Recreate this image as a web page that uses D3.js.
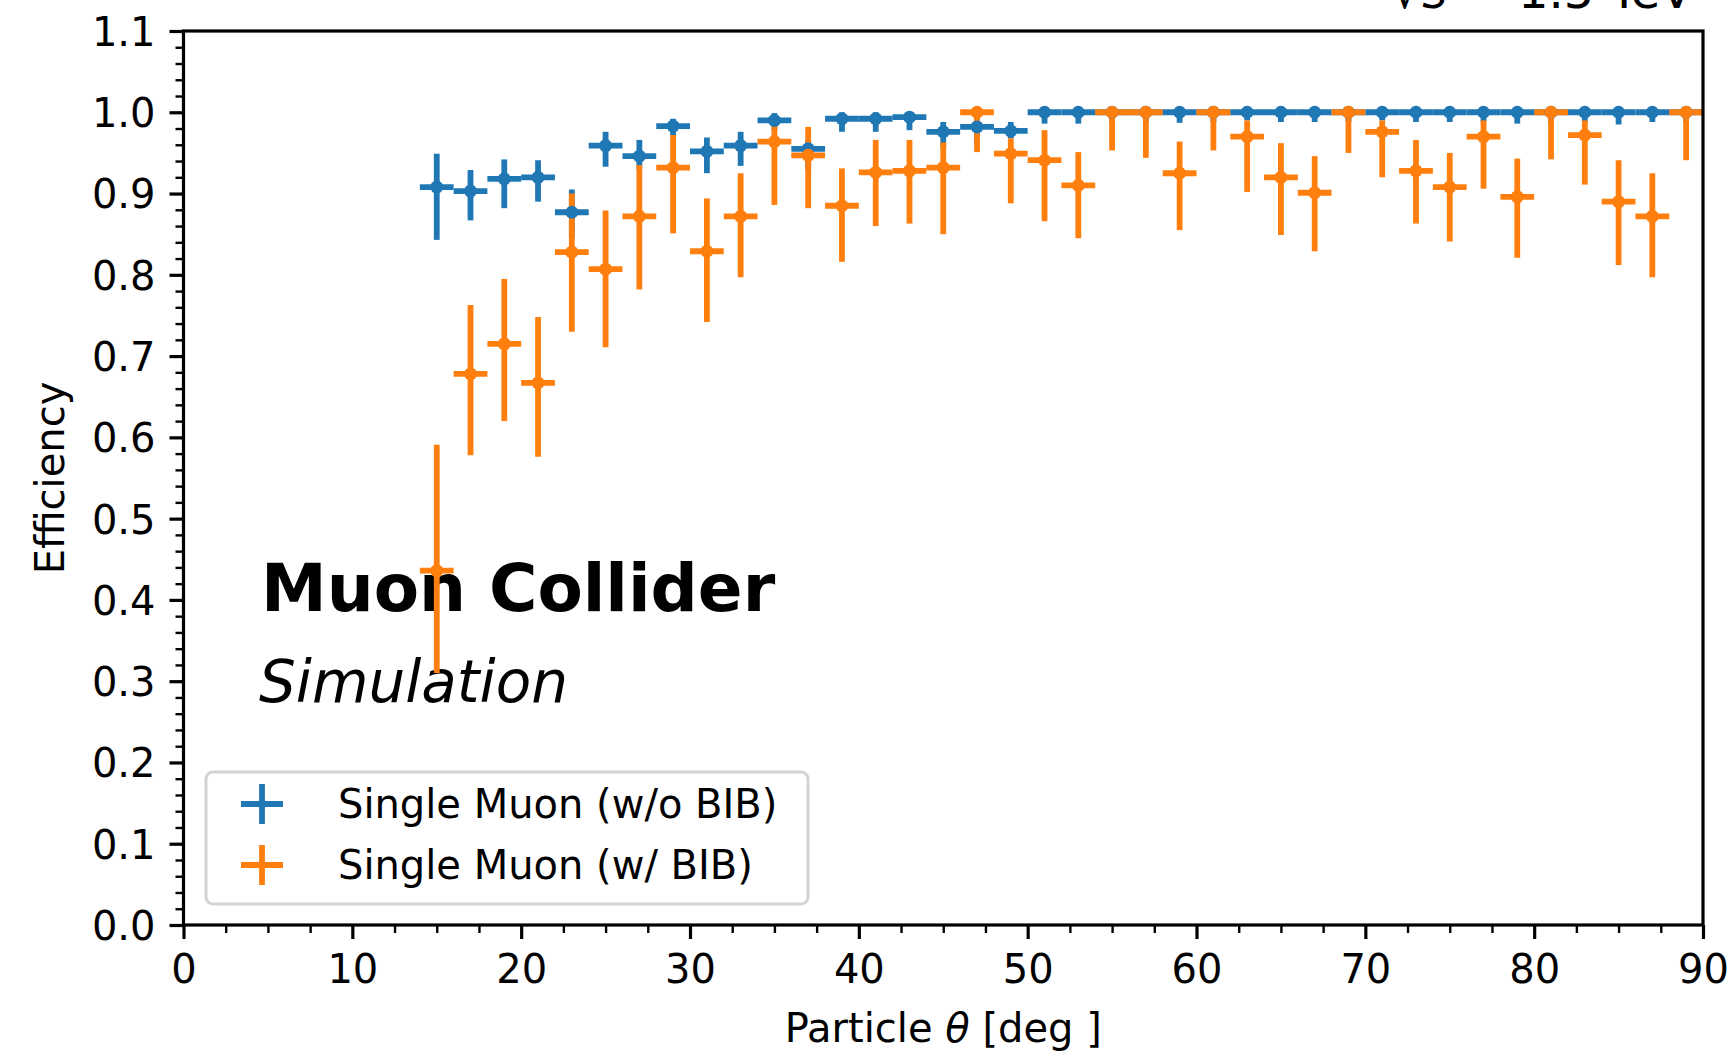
<!DOCTYPE html>
<html>
<head>
<meta charset="utf-8">
<script src="https://cdn.jsdelivr.net/npm/d3@7"></script>
<style>
  html, body { margin: 0; padding: 0; background: #fff; }
  svg { display: block; font-family: "DejaVu Sans", sans-serif; }
</style>
</head>
<body>
<svg id="chart" width="1733" height="1055"></svg>
<script>
// Bin centres of the polar angle (deg); each bin is 2 deg wide
const thetaBins = [15, 17, 19, 21, 23, 25, 27, 29, 31, 33,
                   35, 37, 39, 41, 43, 45, 47, 49, 51, 53,
                   55, 57, 59, 61, 63, 65, 67, 69, 71, 73,
                   75, 77, 79, 81, 83, 85, 87, 89];
const binHalfWidth = 1;

// Single muon, no beam-induced background
const effNoBIB = [0.908, 0.903, 0.918, 0.920, 0.877, 0.959, 0.946, 0.983, 0.952, 0.959,
                  0.990, 0.955, 0.992, 0.992, 0.994, 0.976, 0.982, 0.977, 1.000, 1.000,
                  1.000, 1.000, 1.000, 1.000, 1.000, 1.000, 1.000, 1.000, 1.000, 1.000,
                  1.000, 1.000, 1.000, 1.000, 1.000, 1.000, 1.000, 1.000];
const effNoBIBLow = [0.843, 0.867, 0.882, 0.890, 0.845, 0.933, 0.930, 0.972, 0.925, 0.934,
                     0.978, 0.929, 0.976, 0.976, 0.978, 0.957, 0.962, 0.968, 0.986, 0.986,
                     0.988, 0.988, 0.987, 0.988, 0.990, 0.988, 0.988, 0.988, 0.990, 0.988,
                     0.988, 0.988, 0.986, 0.988, 0.988, 0.985, 0.988, 0.988];
const effNoBIBHigh = [0.949, 0.929, 0.942, 0.941, 0.905, 0.976, 0.966, 0.992, 0.969, 0.976,
                      0.999, 0.966, 1.000, 1.000, 1.000, 0.988, 0.994, 0.988, 1.000, 1.000,
                      1.000, 1.000, 1.000, 1.000, 1.000, 1.000, 1.000, 1.000, 1.000, 1.000,
                      1.000, 1.000, 1.000, 1.000, 1.000, 1.000, 1.000, 1.000];

// Single muon overlaid with beam-induced background
const effBIB = [0.436, 0.678, 0.715, 0.667, 0.828, 0.807, 0.872, 0.932, 0.829, 0.872,
                0.964, 0.947, 0.885, 0.926, 0.928, 0.932, 1.000, 0.949, 0.941, 0.910,
                1.000, 1.000, 0.925, 1.000, 0.970, 0.920, 0.901, 1.000, 0.976, 0.928,
                0.908, 0.970, 0.896, 1.000, 0.972, 0.890, 0.872, 1.000];
const effBIBLow = [0.310, 0.578, 0.620, 0.576, 0.730, 0.711, 0.782, 0.851, 0.742, 0.797,
                   0.886, 0.882, 0.816, 0.860, 0.863, 0.850, 0.951, 0.888, 0.866, 0.845,
                   0.953, 0.944, 0.855, 0.953, 0.902, 0.849, 0.829, 0.950, 0.920, 0.863,
                   0.841, 0.906, 0.821, 0.942, 0.911, 0.812, 0.797, 0.941];
const effBIBHigh = [0.591, 0.763, 0.795, 0.748, 0.900, 0.879, 0.935, 0.972, 0.894, 0.925,
                    0.985, 0.982, 0.931, 0.966, 0.966, 0.963, 1.000, 0.968, 0.978, 0.951,
                    1.000, 1.000, 0.964, 1.000, 0.990, 0.962, 0.946, 1.000, 0.990, 0.966,
                    0.950, 0.990, 0.943, 1.000, 0.990, 0.941, 0.925, 1.000];

const xTickValues = [0, 10, 20, 30, 40, 50, 60, 70, 80, 90];
const yTickValues = [0.0, 0.1, 0.2, 0.3, 0.4, 0.5, 0.6, 0.7, 0.8, 0.9, 1.0, 1.1];
const seriesLabels = ["Single Muon (w/o BIB)", "Single Muon (w/ BIB)"];
const seriesColors = ["#1f77b4", "#ff7f0e"];

const svg = d3.select("#chart");
const plot = { left: 183.5, right: 1703, top: 31, bottom: 925 };

const x = d3.scaleLinear().domain([0, 90]).range([plot.left, plot.right]);
const y = d3.scaleLinear().domain([0, 1.1]).range([plot.bottom, plot.top]);

const fontSize = 40;
const majorLen = 14, minorLen = 8;

// Minor ticks
const xMinor = d3.range(0, 90.001, 2.5).filter(v => v % 10 !== 0);
const yMinor = d3.range(0, 1.1001, 0.02).filter(v => Math.abs(v * 10 - Math.round(v * 10)) > 1e-6);

function styleAxis(g) {
  g.select(".domain").remove();
  g.selectAll(".tick line").attr("stroke", "#000");
  g.selectAll(".tick text").attr("fill", "#000").attr("font-size", fontSize)
    .attr("font-family", "DejaVu Sans, sans-serif");
}

svg.append("g")
  .attr("transform", `translate(0,${plot.bottom})`)
  .call(d3.axisBottom(x).tickValues(xMinor).tickSize(minorLen).tickFormat(""))
  .call(styleAxis)
  .selectAll(".tick line").attr("stroke-width", 2.4);

svg.append("g")
  .attr("transform", `translate(0,${plot.bottom})`)
  .call(d3.axisBottom(x).tickValues(xTickValues).tickSize(majorLen).tickPadding(14)
        .tickFormat(d3.format("d")))
  .call(styleAxis)
  .call(g => g.selectAll(".tick line").attr("stroke-width", 3.2))
  .call(g => g.selectAll(".tick text").attr("dy", "0.71em").attr("y", majorLen + 16));

svg.append("g")
  .attr("transform", `translate(${plot.left},0)`)
  .call(d3.axisLeft(y).tickValues(yMinor).tickSize(minorLen).tickFormat(""))
  .call(styleAxis)
  .selectAll(".tick line").attr("stroke-width", 2.4);

svg.append("g")
  .attr("transform", `translate(${plot.left},0)`)
  .call(d3.axisLeft(y).tickValues(yTickValues).tickSize(majorLen).tickPadding(14)
        .tickFormat(d3.format(".1f")))
  .call(styleAxis)
  .call(g => g.selectAll(".tick line").attr("stroke-width", 3.2))
  .call(g => g.selectAll(".tick text").attr("dy", "0.36em"));

// Axis titles
svg.append("text")
  .attr("x", (plot.left + plot.right) / 2)
  .attr("y", 1042)
  .attr("text-anchor", "middle")
  .attr("font-size", fontSize)
  .attr("fill", "#000")
  .call(t => {
    t.append("tspan").text("Particle ");
    t.append("tspan").attr("font-style", "italic").text("θ");
    t.append("tspan").text(" [deg ]");
  });

svg.append("text")
  .attr("transform", `translate(64,${(plot.top + plot.bottom) / 2}) rotate(-90)`)
  .attr("text-anchor", "middle")
  .attr("font-size", fontSize)
  .attr("fill", "#000")
  .text("Efficiency");

// Energy label above the frame (runs off the top edge)
svg.append("text")
  .attr("x", 1693)
  .attr("y", 8)
  .attr("text-anchor", "end")
  .attr("font-size", 48)
  .attr("fill", "#000")
  .call(t => {
    t.append("tspan").text("√");
    t.append("tspan").attr("font-style", "italic").text("s");
    t.append("tspan").text(" = 1.5 TeV");
  });

// Experiment label
svg.append("text")
  .attr("x", 261).attr("y", 611)
  .attr("font-size", 66).attr("font-weight", "bold").attr("fill", "#000")
  .text("Muon Collider");
svg.append("text")
  .attr("x", 259).attr("y", 702)
  .attr("font-size", 58).attr("font-style", "italic").attr("fill", "#000")
  .text("Simulation");

// Data
const series = [
  { eff: effNoBIB, lo: effNoBIBLow, hi: effNoBIBHigh, color: seriesColors[0] },
  { eff: effBIB,   lo: effBIBLow,   hi: effBIBHigh,   color: seriesColors[1] }
].map(s => ({
  color: s.color,
  points: thetaBins.map((t, i) => ({ t, v: s.eff[i], lo: s.lo[i], hi: s.hi[i] }))
}));

const barWidth = 5.8, markerR = 6.5;
const dataLayer = svg.append("g");

// error bars of all series first, then markers on top
series.forEach(s => {
  const g = dataLayer.append("g").attr("stroke", s.color).attr("stroke-width", barWidth);
  g.selectAll("line.h").data(s.points).join("line").attr("class", "h")
    .attr("x1", d => x(d.t - binHalfWidth)).attr("x2", d => x(d.t + binHalfWidth))
    .attr("y1", d => y(d.v)).attr("y2", d => y(d.v));
  g.selectAll("line.v").data(s.points).join("line").attr("class", "v")
    .attr("x1", d => x(d.t)).attr("x2", d => x(d.t))
    .attr("y1", d => y(d.lo)).attr("y2", d => y(d.hi));
});
series.forEach(s => {
  dataLayer.append("g").attr("fill", s.color)
    .selectAll("circle").data(s.points).join("circle")
    .attr("cx", d => x(d.t)).attr("cy", d => y(d.v)).attr("r", markerR);
});

// Frame
svg.append("rect")
  .attr("x", plot.left).attr("y", plot.top)
  .attr("width", plot.right - plot.left).attr("height", plot.bottom - plot.top)
  .attr("fill", "none").attr("stroke", "#000").attr("stroke-width", 3.2);

// Legend
const legend = svg.append("g");
legend.append("rect")
  .attr("x", 206).attr("y", 772).attr("width", 602).attr("height", 132)
  .attr("rx", 7).attr("ry", 7)
  .attr("fill", "#fff").attr("fill-opacity", 0.8)
  .attr("stroke", "#d3d3d3").attr("stroke-width", 3);

const legendRows = [804, 865];
seriesLabels.forEach((label, i) => {
  const cy = legendRows[i], cx = 262;
  const g = legend.append("g").attr("stroke", seriesColors[i]).attr("stroke-width", barWidth);
  g.append("line").attr("x1", cx - 21).attr("x2", cx + 21).attr("y1", cy).attr("y2", cy);
  g.append("line").attr("x1", cx).attr("x2", cx).attr("y1", cy - 20).attr("y2", cy + 20);
  legend.append("circle").attr("cx", cx).attr("cy", cy).attr("r", markerR - 2).attr("fill", seriesColors[i]);
  legend.append("text")
    .attr("x", 338).attr("y", cy).attr("dy", "0.36em")
    .attr("font-size", fontSize).attr("fill", "#000")
    .text(label);
});
</script>
</body>
</html>
